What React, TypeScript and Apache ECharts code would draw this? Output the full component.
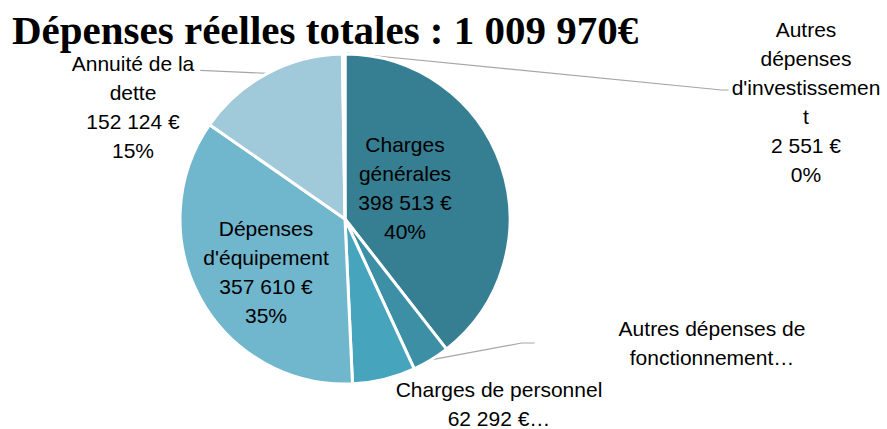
import React, { useEffect, useRef } from "react";
import * as echarts from "echarts";

const titleText = "Dépenses réelles totales : 1 009 970€";
const categories = [
  "Charges générales",
  "Autres dépenses de fonctionnement",
  "Charges de personnel",
  "Dépenses d'équipement",
  "Annuité de la dette",
  "Autres dépenses d'investissement",
];
const values = [398513, 36880, 62292, 357610, 152124, 2551];
const labelLines = [
  ["Charges", "générales", "398 513 €", "40%"],
  ["Autres dépenses de", "fonctionnement…"],
  ["Charges de personnel", "62 292 €…"],
  ["Dépenses", "d'équipement", "357 610 €", "35%"],
  ["Annuité de la", "dette", "152 124 €", "15%"],
  ["Autres", "dépenses", "d'investissemen", "t", "2 551 €", "0%"],
];
const colors = ["#367e92", "#3d8fa6", "#47a4bd", "#70b6cd", "#a0c9da", "#c5dde7"];
// label block centres (px)
const labelCenters = [
  [405, 188],
  [712, 343],
  [499, 404],
  [266, 272],
  [133, 107],
  [806, 102],
];
const insideIdx = [0, 3];

export default function App() {
  const ref = useRef<HTMLDivElement>(null);
  useEffect(() => {
    if (!ref.current) return;
    const chart = echarts.init(ref.current, null, { renderer: "svg" });
    const font = "'Liberation Sans', Arial, sans-serif";
    chart.setOption({
      animation: false,
      backgroundColor: "#ffffff",
      title: {
        text: titleText,
        left: 7,
        top: 4,
        textStyle: {
          fontFamily: "'Liberation Serif', 'Times New Roman', serif",
          fontWeight: "bold",
          fontSize: 41,
          color: "#000000",
        },
      },
      series: [
        {
          type: "pie",
          center: [345, 219],
          radius: 165,
          startAngle: 90,
          clockwise: true,
          avoidLabelOverlap: false,
          itemStyle: { borderColor: "#ffffff", borderWidth: 3 },
          label: {
            show: true,
            position: "outside",
            fontFamily: font,
            fontSize: 21,
            lineHeight: 29,
            color: "#000000",
            align: "center",
            formatter: (p: any) => labelLines[p.dataIndex].join("\n"),
          },
          labelLine: {
            show: true,
            length: 10,
            length2: 10,
            lineStyle: { color: "#a6a6a6", width: 1.2 },
          },
          labelLayout: (p: any) => {
            const i = p.dataIndex;
            const c = labelCenters[i];
            const r = p.labelRect;
            const left = c[0] - r.width / 2;
            const right = c[0] + r.width / 2;
            const out: any = { x: c[0], y: c[1], align: "center", verticalAlign: "middle" };
            const pts = p.labelLinePoints;
            if (pts && pts.length) {
              const s = pts[0];
              if (i === 4) {
                out.labelLinePoints = [s, [right + 6, s[1] - 3], [right + 6, s[1] - 3]];
              } else if (i === 5) {
                const yy = c[1] - 12;
                out.labelLinePoints = [[s[0] + 3, s[1] - 1], [left - 10, yy], [left - 3, yy]];
              } else if (i === 1) {
                const yy = c[1];
                out.labelLinePoints = [s, [left - 97, yy], [left - 84, yy]];
              }
            }
            return out;
          },
          data: categories.map((name, i) => ({
            name,
            value: values[i],
            itemStyle: { color: colors[i] },
            label: insideIdx.includes(i) ? { position: "inside" } : undefined,
            labelLine: i === 2 ? { show: false } : undefined,
          })),
        },
      ],
    });
    return () => chart.dispose();
  }, []);
  return (
    <div
      ref={ref}
      style={{ position: "fixed", left: 0, top: 0, width: 887, height: 429 }}
    />
  );
}
